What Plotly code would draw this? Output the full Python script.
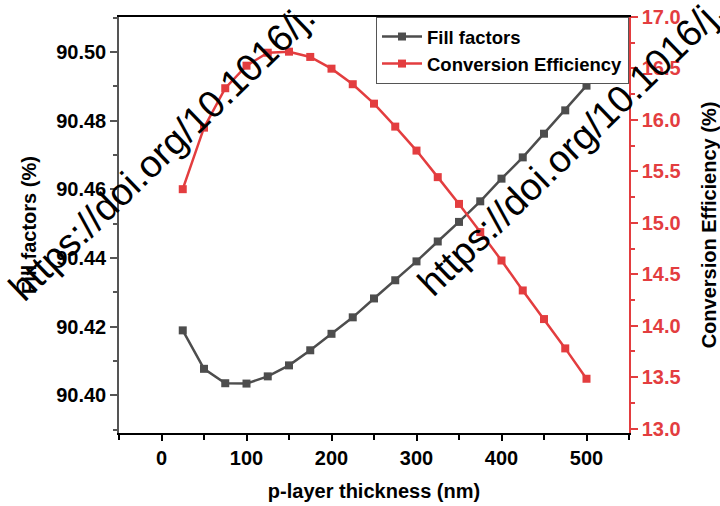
import plotly.graph_objects as go

# p-layer thickness sweep (nm)
thickness = [25, 50, 75, 100, 125, 150, 175, 200, 225, 250,
             275, 300, 325, 350, 375, 400, 425, 450, 475, 500]

# Fill factor (%)
fill_factor = [90.4189, 90.4077, 90.4035, 90.4034, 90.4055, 90.4087, 90.4131,
               90.4179, 90.4227, 90.4282, 90.4335, 90.4390, 90.4448, 90.4505,
               90.4565, 90.4631, 90.4693, 90.4762, 90.4830, 90.4902]

# Conversion efficiency (%)
efficiency = [15.327, 15.925, 16.308, 16.527, 16.653, 16.663, 16.612, 16.498,
              16.347, 16.158, 15.935, 15.702, 15.444, 15.184, 14.910, 14.634,
              14.343, 14.065, 13.780, 13.485]

x_ticks = [0, 100, 200, 300, 400, 500]
ff_ticks = [90.40, 90.42, 90.44, 90.46, 90.48, 90.50]
eff_ticks = [13.0, 13.5, 14.0, 14.5, 15.0, 15.5, 16.0, 16.5, 17.0]

GRAY = "#4d4d4d"
RED = "#e33d3f"
FONT = "Arial, Liberation Sans, sans-serif"

W, H = 720, 506
L, R, T, B = 119, 91, 17, 73

fig = go.Figure()
fig.add_trace(go.Scatter(
    x=thickness, y=fill_factor, name="Fill factors", mode="lines+markers",
    line=dict(color=GRAY, width=2.5),
    marker=dict(symbol="square", size=8, color=GRAY),
    yaxis="y"))
fig.add_trace(go.Scatter(
    x=thickness, y=efficiency, name="Conversion Efficiency", mode="lines+markers",
    line=dict(color=RED, width=2.5),
    marker=dict(symbol="square", size=8, color=RED),
    yaxis="y2"))

bold = dict(family=FONT, size=20, color="black", weight="bold")


def paper_xy(px, py):
    return (px - L) / (W - L - R), (H - B - py) / (H - T - B)


# diagonal DOI stamps across the plot
stamp = "https://doi.org/10.1016/j."
for cx, cy in [(162, 152), (571, 147)]:
    ax, ay = paper_xy(cx, cy)
    fig.add_annotation(text=stamp, x=ax, y=ay, xref="paper", yref="paper",
                       xanchor="center", yanchor="middle", textangle=-44,
                       showarrow=False,
                       font=dict(family=FONT, size=38, color="black"))

fig.update_layout(
    width=W, height=H,
    margin=dict(l=L, r=R, t=T, b=B, pad=0, autoexpand=False),
    paper_bgcolor="white", plot_bgcolor="white",
    showlegend=True,
    legend=dict(x=1.0, y=1.0, xanchor="right", yanchor="top",
                bgcolor="white", bordercolor="#555555", borderwidth=1,
                font=dict(family=FONT, size=18.5, color="black", weight="bold"),
                tracegroupgap=0, itemwidth=40),
    xaxis=dict(
        range=[-50, 550], tickvals=x_ticks, ticks="outside", ticklen=6,
        tickwidth=1.5, tickcolor="black", showline=True, linecolor="black",
        linewidth=1.5, mirror=True, showgrid=False, zeroline=False,
        automargin=False, tickfont=bold,
        minor=dict(dtick=50, tick0=0, ticks="outside", ticklen=5,
                   tickcolor="black", tickwidth=1.5, showgrid=False),
        title=dict(text="p-layer thickness (nm)", font=bold, standoff=16)),
    yaxis=dict(
        range=[90.389, 90.5102], tickvals=ff_ticks, tickformat=".2f",
        ticks="outside", ticklen=7, tickwidth=1.5, tickcolor="#555555",
        showline=True, linecolor="#555555", linewidth=1.5,
        showgrid=False, zeroline=False, automargin=False, tickfont=bold,
        minor=dict(dtick=0.01, tick0=90.39, ticks="outside", ticklen=4,
                   tickcolor="#555555", tickwidth=1.5, showgrid=False),
        title=dict(text="Fill factors (%)", font=bold, standoff=14)),
    yaxis2=dict(
        range=[12.958, 17.0], tickvals=eff_ticks, tickformat=".1f",
        overlaying="y", side="right", anchor="x",
        ticks="outside", ticklen=7, tickwidth=1.5, tickcolor=RED,
        showline=True, linecolor=RED, linewidth=1.5,
        showgrid=False, zeroline=False, automargin=False,
        tickfont=dict(family=FONT, size=20, color=RED, weight="bold"),
        minor=dict(dtick=0.25, tick0=13.0, ticks="outside", ticklen=4,
                   tickcolor=RED, tickwidth=1.5, showgrid=False),
        title=dict(text="Conversion Efficiency (%)", font=bold, standoff=24)),
)

fig.write_html("out.html")
